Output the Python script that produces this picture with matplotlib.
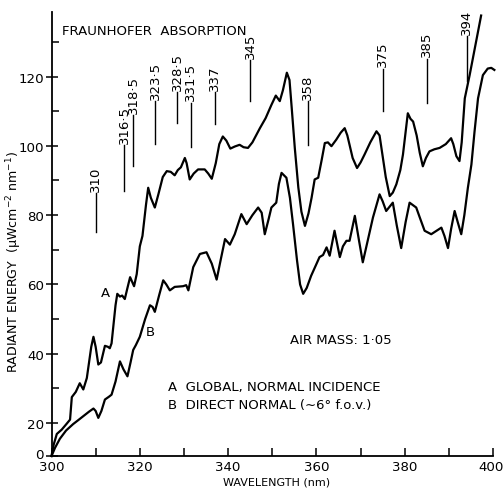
import numpy as np
import matplotlib
matplotlib.use('Agg')
import matplotlib.pyplot as plt
import matplotlib.transforms as mtransforms

# # Data

# A : global, normal incidence
wl_global = [300.0, 300.5, 301.2, 302.3, 303.4, 304.2, 304.6, 305.5, 306.4, 307.2, 308.0, 309.0,
             309.5, 310.0, 310.6, 311.2, 312.1, 312.8, 313.2, 313.6, 314.5, 314.9, 315.5, 316.0,
             316.6, 317.2, 317.8, 318.7, 319.3, 320.0, 320.6, 321.4, 321.9, 322.5, 323.4, 324.2,
             325.2, 326.1, 327.0, 327.9, 328.6, 329.3, 330.2, 330.6, 331.3, 332.2, 333.2, 334.7,
             335.5, 336.3, 337.2, 338.0, 338.8, 339.6, 340.5, 341.5, 342.6, 343.5, 344.5, 345.5,
             347.2, 348.5, 349.8, 350.8, 351.7, 352.4, 353.3, 353.9, 354.4, 355.1, 355.9, 356.6,
             357.4, 358.2, 358.9, 359.6, 360.4, 361.2, 361.9, 362.6, 363.4, 364.5, 365.5, 366.4,
             367.0, 367.5, 368.2, 369.2, 370.0, 370.9, 372.2, 373.6, 374.3, 375.0, 375.7, 376.6,
             377.3, 378.1, 379.0, 379.6, 380.2, 380.7, 381.3, 381.9, 382.7, 383.4, 384.1, 384.8,
             385.6, 386.7, 387.9, 389.3, 390.5, 391.0, 391.7, 392.4, 392.9, 393.6, 394.7, 396.0,
             397.3]
en_global = [0, 7, 13.4, 16.0, 19.5, 21, 27.5, 29, 31.5, 29.7, 33, 42,
             44.9, 42, 36.9, 37.5, 42.3, 42, 41.6, 43, 54, 57.3, 56.5, 56.8,
             55.8, 59, 62.1, 59.5, 63, 71, 74, 83, 87.9, 85, 82.2, 86,
             91, 92.7, 92.5, 91.5, 93, 93.8, 96.5, 95, 90.3, 92, 93.2, 93.2,
             92, 90.5, 95, 100.5, 102.7, 101.5, 99.2, 99.8, 100.3, 99.6, 99.4, 101,
             105.1, 108, 111.8, 114.5, 112.9, 116, 121.1, 119, 111, 99.4, 88, 81,
             76.9, 80.5, 85, 90.3, 90.8, 96, 100.8, 101, 99.9, 101.8, 103.8, 105.1,
             103, 100.3, 96.5, 93.6, 95.2, 97.5, 101, 104.2, 103, 97, 91, 85.5,
             86.5, 88.9, 93, 97.5, 104, 109.4, 107.8, 107.0, 103, 98, 94.1, 96.5,
             98.4, 99, 99.4, 100.5, 102.2, 100.5, 97, 95.6, 101, 113.7, 120.4, 129,
             137.6]

# B : direct normal
wl_direct = [300.0, 300.8, 301.9, 303.3, 304.9, 306.0, 307.2, 308.5, 309.5, 310.0, 310.6, 311.3,
             312.1, 313.0, 313.6, 314.5, 315.5, 316.3, 317.2, 317.9, 318.5, 319.1, 320.0, 321.2,
             322.3, 322.9, 323.4, 324.4, 325.3, 326.0, 326.8, 327.9, 329.8, 330.5, 331.0, 332.1,
             333.6, 335.1, 336.3, 337.4, 338.3, 339.3, 340.4, 341.5, 343.0, 344.2, 345.5, 346.8,
             347.6, 348.3, 349.2, 349.8, 350.9, 351.5, 352.1, 353.2, 354.0, 354.7, 355.6, 356.3,
             357.0, 357.8, 358.8, 360.0, 360.7, 361.5, 362.3, 363.0, 364.1, 365.3, 366.0, 366.8,
             367.5, 368.7, 369.6, 370.5, 371.5, 372.8, 374.3, 375.0, 375.8, 377.3, 378.2, 379.2,
             380.2, 381.1, 382.6, 383.5, 384.5, 386.0, 388.3, 389.0, 389.8, 390.5, 391.3, 392.0,
             392.8, 393.5, 394.3, 395.1, 395.8, 396.6, 397.7, 398.8, 399.6, 400.3]
en_direct = [0, 5, 10.5, 15.5, 19.4, 20.8, 22.0, 23.3, 24.2, 23.5, 21.5, 23.5,
             26.8, 27.6, 28.2, 32, 37.8, 35.5, 33.5, 37.5, 41.1, 42.5, 44.9, 50,
             54.0, 53.5, 52.1, 57, 61.2, 60, 58.3, 59.3, 59.5, 59.8, 58.3, 65.0,
             68.8, 69.3, 66, 61.4, 67, 73.1, 71.5, 74.5, 80.3, 77.4, 80, 82.2,
             80.7, 74.5, 79, 82.2, 83.6, 89, 92.2, 90.8, 85, 77.4, 67, 60,
             57.3, 59, 62.5, 65.9, 67.9, 68.5, 70.7, 68.3, 75.5, 67.9, 71, 72.6,
             72.6, 79.8, 73, 66.4, 72, 79.3, 86.0, 84, 81.2, 83.6, 77, 70.5,
             78, 83.6, 82.2, 79, 75.5, 74.5, 76.4, 74, 70.5, 76, 81.2, 78,
             74.5, 80, 87.9, 94.6, 104, 113.7, 120.4, 122.3, 122.5, 121.9]

# Fraunhofer absorption lines : wavelength, label, bottom and top of the marker
fraun_wl = [310, 316.5, 318.5, 323.5, 328.5, 331.5, 337, 345, 358, 375, 385, 394]
fraun_labels = ['310', '316·5', '318·5', '323·5', '328·5', '331·5', '337', '345', '358', '375',
                '385', '394']
fraun_bottom = [75, 87, 94.2, 100.5, 106.5, 99.7, 106.3, 112.8, 100.2, 110, 112.5, 118.6]
fraun_top = [86.5, 100.2, 108.8, 113, 115.4, 112.5, 115.4, 124.7, 112.8, 122.3, 125.2, 131.7]

x_ticks = [300, 320, 340, 360, 380, 400]
x_minor = [310, 330, 350, 370, 390]
y_ticks = [0, 20, 40, 60, 80, 100, 120]
y_minor = [30, 50, 70, 90, 110, 130]


# # Squeezed scale below 20 (0 - 20 drawn in about half the space)

def squeeze(y):
    y = np.asarray(y, dtype=float)
    return np.where(y < 20, 10.5 + 0.475 * y, y)


def unsqueeze(t):
    t = np.asarray(t, dtype=float)
    return np.where(t < 20, (t - 10.5) / 0.475, t)


# # Plot

plt.rcParams['font.family'] = 'DejaVu Sans'
fig = plt.figure(figsize=(5.03, 4.89), dpi=100)
ax = fig.add_axes([0.1024, 0.0654, 0.8778, 0.9086])
ax.set_yscale('function', functions=(squeeze, unsqueeze))

ax.plot(wl_global, en_global, color='black', lw=1.6, clip_on=False, solid_joinstyle='round')
ax.plot(wl_direct, en_direct, color='black', lw=1.6, clip_on=False, solid_joinstyle='round')

for wl, lab, y0, y1 in zip(fraun_wl, fraun_labels, fraun_bottom, fraun_top):
    ax.plot([wl, wl], [y0, y1], color='black', lw=1.0)
    ax.text(wl, y1 + 0.6, lab, rotation=90, ha='center', va='bottom', fontsize=9.5)

ax.set_xlim(300, 400)
ax.set_ylim(0, 138.7)

ax.spines['top'].set_visible(False)
ax.spines['right'].set_visible(False)
ax.spines['left'].set_linewidth(1.3)
ax.spines['bottom'].set_linewidth(1.3)

ax.set_xticks(x_ticks)
ax.set_xticks(x_minor, minor=True)
ax.set_yticks(y_ticks)
ax.set_yticks(y_minor, minor=True)
ax.tick_params(axis='x', which='both', direction='in', length=6, width=1.1, pad=3, labelsize=9.6)
ax.tick_params(axis='y', which='major', direction='inout', length=9, width=1.1, pad=1, labelsize=9.6)
ax.tick_params(axis='y', which='minor', direction='in', length=5, width=1.1)

# last wavelength label sits flush with the right edge
last = ax.get_xticklabels()[-1]
last.set_horizontalalignment('right')
last.set_transform(last.get_transform() + mtransforms.ScaledTranslation(8 / 72, 0, fig.dpi_scale_trans))

# the zero of the energy axis sits a little above the corner
zero = ax.get_yticklabels()[0]
zero.set_transform(zero.get_transform() + mtransforms.ScaledTranslation(0, 2.5 / 72, fig.dpi_scale_trans))

ax.set_xlabel('WAVELENGTH (nm)', fontsize=8)
ax.xaxis.set_label_coords(0.51, -0.045)
ax.set_ylabel('RADIANT ENERGY  (\u03bcWcm$^{-2}$ nm$^{-1}$)', fontsize=9.1)
ax.yaxis.set_label_coords(-0.062, 0.44)

ax.text(302.4, 133.2, 'FRAUNHOFER  ABSORPTION', ha='left', va='center', fontsize=9.5)
ax.text(354.0, 44.2, 'AIR MASS: 1·05', ha='left', va='center', fontsize=9.5)
ax.text(326.4, 30.6, 'A  GLOBAL, NORMAL INCIDENCE', ha='left', va='center', fontsize=9.5)
ax.text(326.4, 25.4, 'B  DIRECT NORMAL (\u223c6° f.o.v.)', ha='left', va='center', fontsize=9.5)
ax.text(312.3, 57.8, 'A', ha='center', va='center', fontsize=9.5)
ax.text(322.4, 46.4, 'B', ha='center', va='center', fontsize=9.5)

plt.savefig('out.png', dpi=100)
